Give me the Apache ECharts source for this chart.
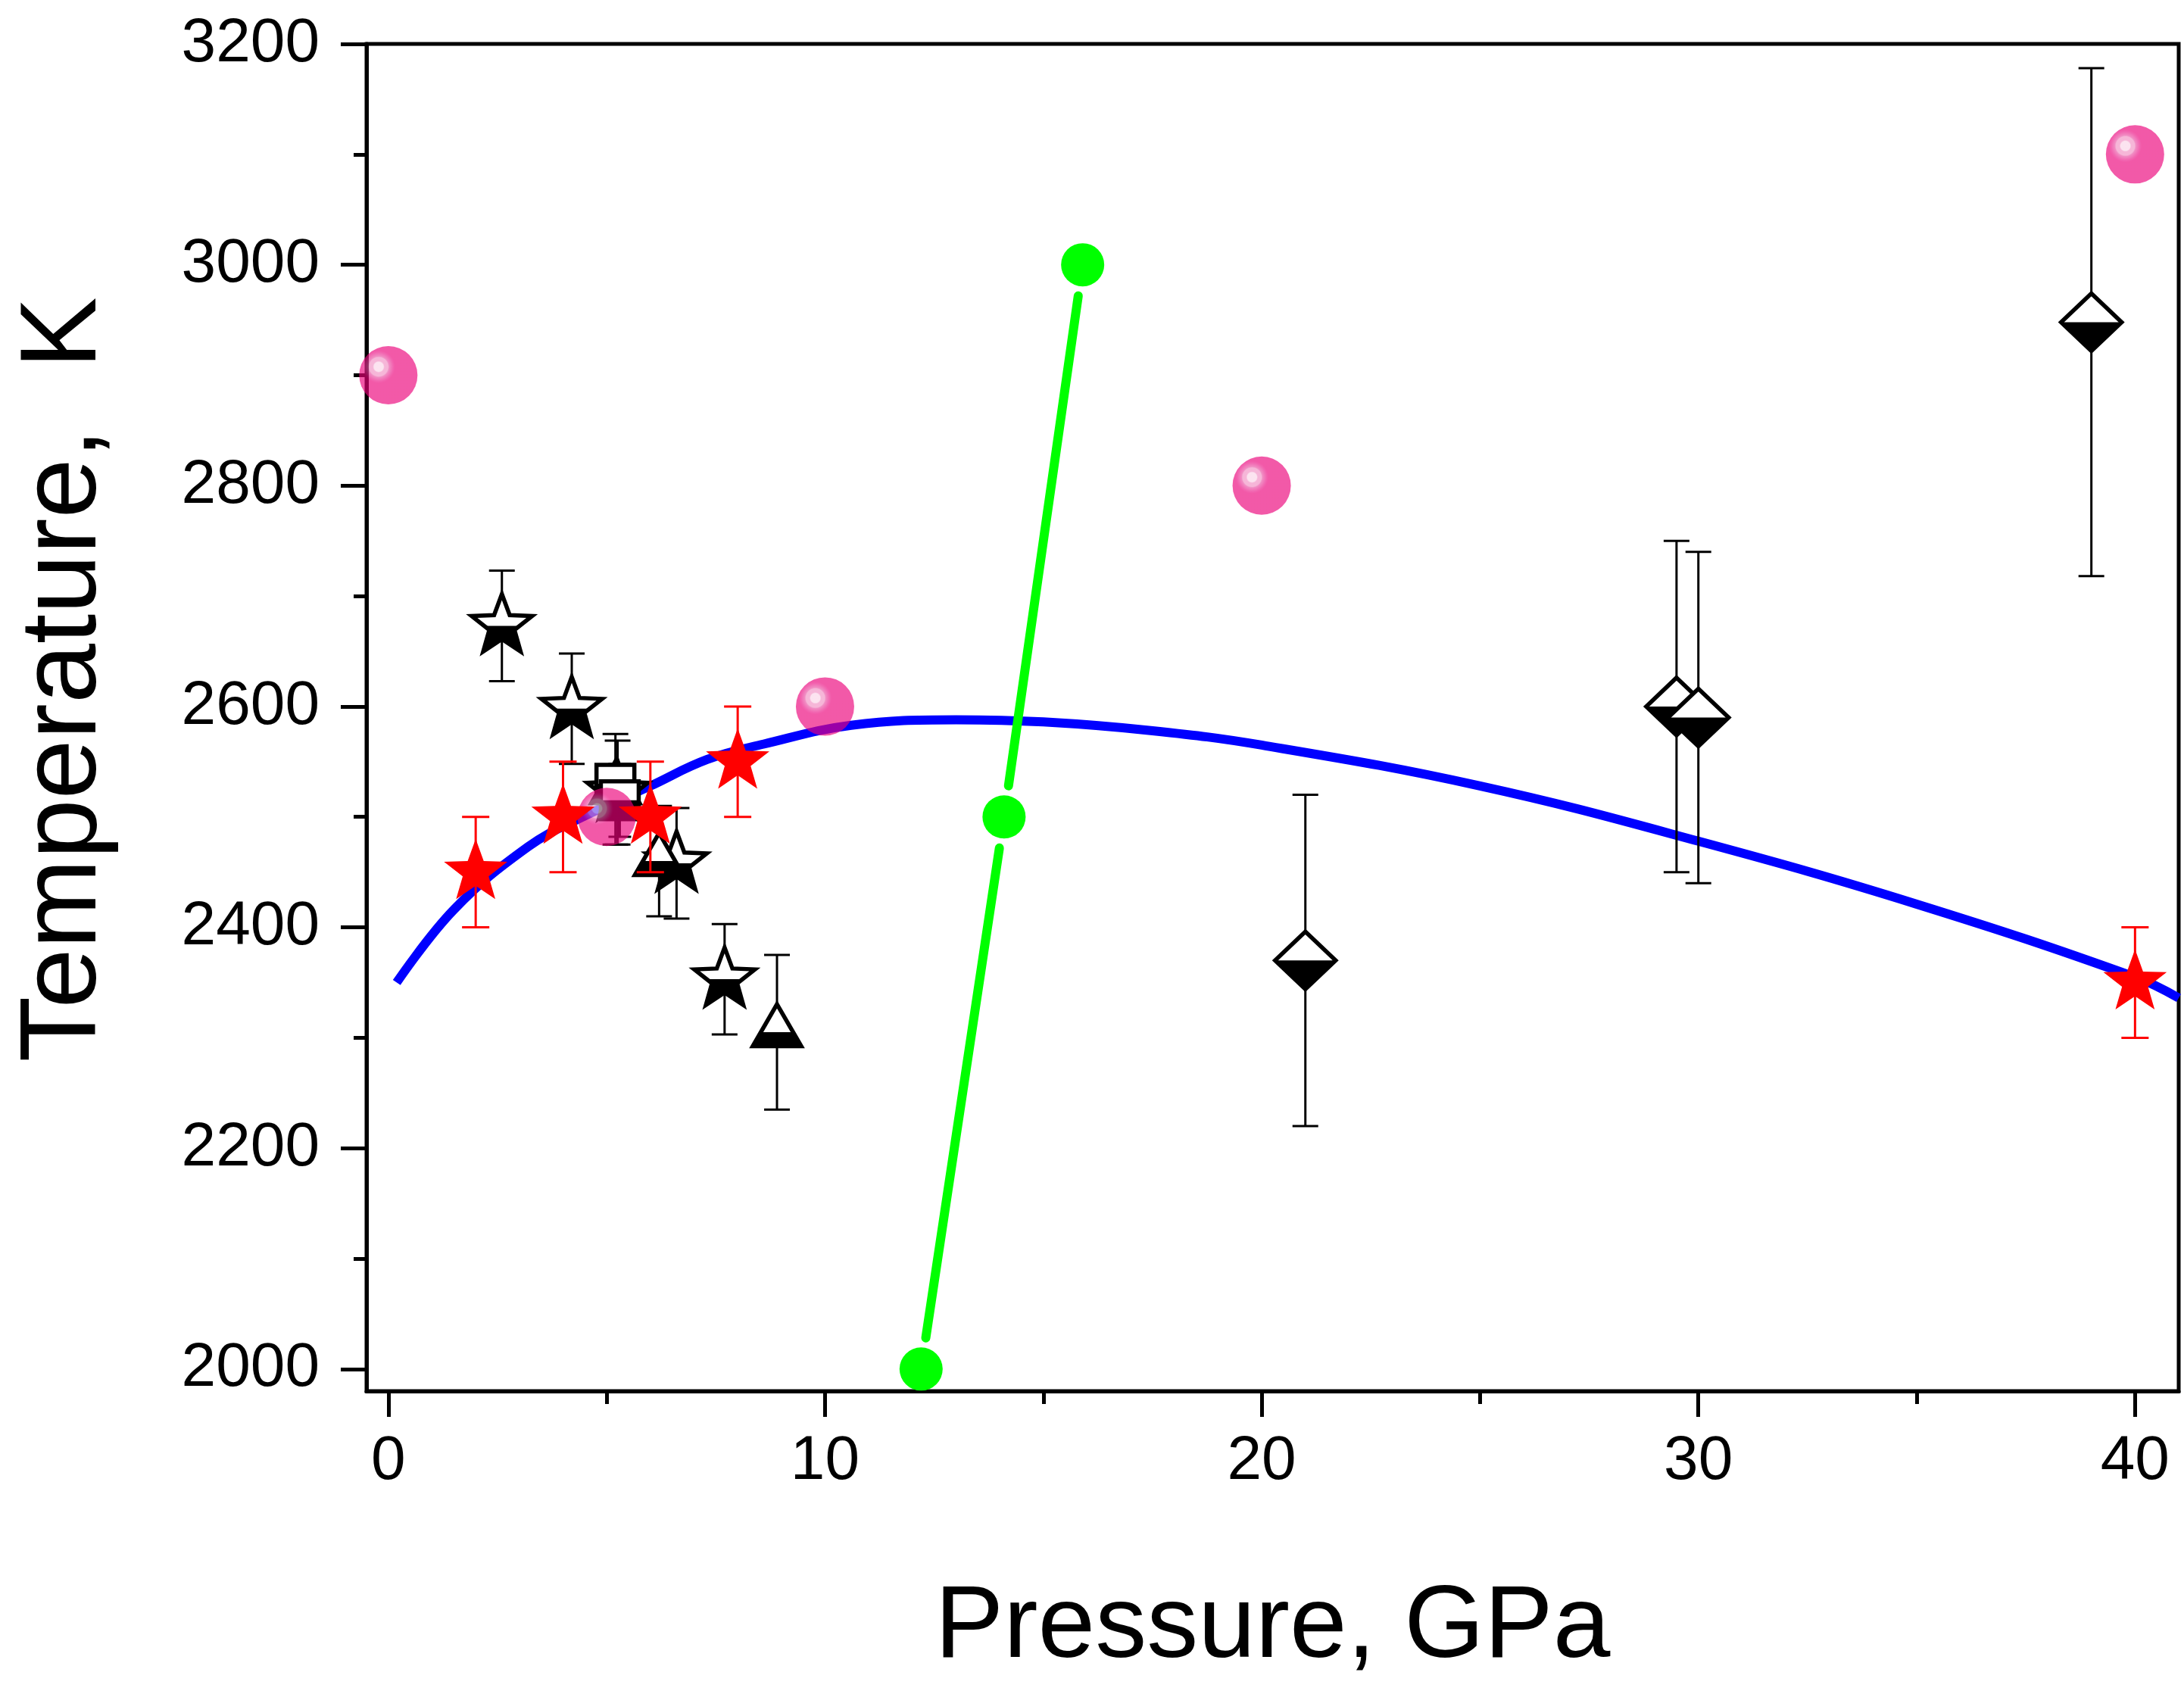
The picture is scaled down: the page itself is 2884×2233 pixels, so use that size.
<!DOCTYPE html>
<html><head><meta charset="utf-8">
<script src="https://cdn.jsdelivr.net/npm/echarts@6/dist/echarts.min.js"></script>
<style>html,body{margin:0;padding:0;background:#fff}#c{width:2884px;height:2233px}</style>
</head><body><div id="c"></div>
<script>
// ---- tick labels ----
const xTicks = [0, 10, 20, 30, 40];
const xMinorTicks = [5, 15, 25, 35];
const yTicks = [2000, 2200, 2400, 2600, 2800, 3000, 3200];
const yMinorTicks = [2100, 2300, 2500, 2700, 2900, 3100];

// ---- blue fitted curve ----
const blueP = [0.19, 1.5, 3.2, 4.4, 6, 7.3, 8.6, 10.6, 13, 15, 17.5, 20, 25, 30, 35, 40, 41];
const blueT = [2350, 2416, 2473, 2499, 2528, 2552, 2566, 2583, 2588, 2586, 2578, 2565, 2528, 2478, 2421, 2355, 2336];

// ---- green line with circles ----
const greenP = [12.2, 14.1, 15.9];
const greenT = [2000, 2500, 3000];

// ---- pink spheres ----
const pinkP = [0, 5, 10, 20, 40];
const pinkT = [2900, 2500, 2600, 2800, 3100];

// ---- red stars (with error) ----
const redP = [2, 4, 6, 8, 40];
const redT = [2450, 2500, 2500, 2550, 2350];
const redErr = [50, 50, 50, 50, 50];

// ---- half-filled black stars ----
const starP = [2.6, 4.2, 5.25, 6.6, 7.7];
const starT = [2673, 2598, 2522, 2458, 2353];
const starErr = [50, 50, 47, 50, 50];

// ---- half-filled triangles ----
const triP = [5.2, 6.2, 8.9];
const triT = [2525, 2460, 2305];
const triErr = [50, 50, 70];

// ---- half-filled squares ----
const sqP = [5.2, 5.3];
const sqT = [2530, 2515];
const sqErr = [0, 33];

// ---- half-filled diamonds ----
const diaP = [21, 29.5, 30, 39];
const diaT = [2370, 2600, 2590, 2948];
const diaErr = [150, 150, 150, 230];

const FONT = "'Liberation Sans', Arial, sans-serif";

function zip3(a, b, c) { return a.map((v, i) => [v, b[i], c ? c[i] : 0]); }

function clipBelow(pts, cy) {
  const out = [];
  for (let i = 0; i < pts.length; i++) {
    const a = pts[i], b = pts[(i + 1) % pts.length];
    const ain = a[1] >= cy, bin = b[1] >= cy;
    if (ain) out.push(a);
    if (ain !== bin) {
      const t = (cy - a[1]) / (b[1] - a[1]);
      out.push([a[0] + t * (b[0] - a[0]), cy]);
    }
  }
  return out;
}
function starPts(cx, cy, R, r) {
  const p = [];
  for (let k = 0; k < 10; k++) {
    const ang = -Math.PI / 2 + k * Math.PI / 5;
    const rad = k % 2 === 0 ? R : r;
    p.push([cx + rad * Math.cos(ang), cy + rad * Math.sin(ang)]);
  }
  return p;
}
function shapePts(kind, cx, cy) {
  if (kind === 'star') return starPts(cx, cy, 42, 17.5);
  if (kind === 'tri') {
    const R = 37;
    return [-90, 30, 150].map(a => [cx + R * Math.cos(a * Math.PI / 180), cy + R * Math.sin(a * Math.PI / 180)]);
  }
  if (kind === 'sq') { const h = 25; return [[cx - h, cy - h], [cx + h, cy - h], [cx + h, cy + h], [cx - h, cy + h]]; }
  if (kind === 'dia') { const w = 40, h = 38; return [[cx, cy - h], [cx + w, cy], [cx, cy + h], [cx - w, cy]]; }
}
function halfRender(kind) {
  return function (params, api) {
    const c = api.coord([api.value(0), api.value(1)]);
    const pts = shapePts(kind, c[0], c[1]);
    const low = clipBelow(pts, c[1]);
    return {
      type: 'group',
      children: [
        { type: 'polygon', shape: { points: pts }, style: { fill: '#fff', stroke: null } },
        { type: 'polygon', shape: { points: low }, style: { fill: '#000', stroke: null } },
        { type: 'polygon', shape: { points: pts }, style: { fill: null, stroke: '#000', lineWidth: 5.5, lineJoin: 'miter' } }
      ]
    };
  };
}
function errRender(color, capHalf) {
  return function (params, api) {
    const e = api.value(2);
    if (!e) return null;
    const x = api.value(0), y = api.value(1);
    const top = api.coord([x, y + e]);
    const bot = api.coord([x, y - e]);
    const st = { stroke: color, lineWidth: 3 };
    return {
      type: 'group',
      children: [
        { type: 'line', shape: { x1: top[0], y1: top[1], x2: bot[0], y2: bot[1] }, style: st },
        { type: 'line', shape: { x1: top[0] - capHalf, y1: top[1], x2: top[0] + capHalf, y2: top[1] }, style: st },
        { type: 'line', shape: { x1: bot[0] - capHalf, y1: bot[1], x2: bot[0] + capHalf, y2: bot[1] }, style: st }
      ]
    };
  };
}
function redStarRender(params, api) {
  const c = api.coord([api.value(0), api.value(1)]);
  return { type: 'polygon', shape: { points: starPts(c[0], c[1], 44, 18) }, style: { fill: '#ff0000' } };
}
function greenSegRender(params, api) {
  const i = params.dataIndex;
  const a = api.coord([greenP[i], greenT[i]]);
  const b = api.coord([greenP[i + 1], greenT[i + 1]]);
  const dx = b[0] - a[0], dy = b[1] - a[1];
  const L = Math.sqrt(dx * dx + dy * dy);
  const d = 41.5;
  const ux = dx / L, uy = dy / L;
  return {
    type: 'line',
    shape: { x1: a[0] + ux * d, y1: a[1] + uy * d, x2: b[0] - ux * d, y2: b[1] - uy * d },
    style: { stroke: '#00ff00', lineWidth: 12, lineCap: 'round' }
  };
}

const A = 0.65;
function pk(r, g, b) {
  const f = v => Math.max(0, Math.min(255, Math.round((v - 255 * (1 - A)) / A)));
  return 'rgba(' + f(r) + ',' + f(g) + ',' + f(b) + ',' + A + ')';
}
const sphereColor = {
  type: 'radial', x: 0.334, y: 0.355, r: 0.5,
  colorStops: [
    { offset: 0, color: pk(252, 228, 240) },
    { offset: 0.16, color: pk(252, 228, 240) },
    { offset: 0.2, color: pk(246, 182, 216) },
    { offset: 0.32, color: pk(246, 182, 216) },
    { offset: 0.36, color: pk(241, 142, 196) },
    { offset: 0.5, color: pk(242, 100, 176) },
    { offset: 0.56, color: pk(242, 86, 168) },
    { offset: 1, color: pk(242, 86, 168) }
  ]
};

const chart = echarts.init(document.getElementById('c'), null, { renderer: 'canvas' });
const labelStyle = { color: '#000', fontFamily: FONT, fontSize: 82, formatter: v => String(v) };
chart.setOption({
  animation: false,
  backgroundColor: '#fff',
  grid: {
    left: 484, right: 7, top: 58, bottom: 396,
    containLabel: false, outerBoundsMode: 'none',
    show: true, borderColor: '#000', borderWidth: 5, backgroundColor: 'transparent'
  },
  xAxis: [
    {
      type: 'value', min: -0.5, max: 41, position: 'bottom',
      name: 'Pressure, GPa', nameLocation: 'middle', nameGap: 245,
      nameTextStyle: { color: '#000', fontFamily: FONT, fontSize: 136 },
      axisLine: { show: true, onZero: false, lineStyle: { color: '#000', width: 5 } },
      axisTick: { show: true, length: 34, lineStyle: { color: '#000', width: 5 }, customValues: xTicks },
      axisLabel: Object.assign({ margin: 52, customValues: xTicks }, labelStyle),
      splitLine: { show: false }
    },
    {
      type: 'value', min: -0.5, max: 41, position: 'bottom', offset: 0,
      axisLine: { show: false, onZero: false },
      axisTick: { show: true, length: 17, lineStyle: { color: '#000', width: 5 }, customValues: xMinorTicks },
      axisLabel: { show: false },
      splitLine: { show: false }
    }
  ],
  yAxis: [
    {
      type: 'value', min: 1980, max: 3200, position: 'left',
      name: 'Temperature,  K', nameLocation: 'middle', nameRotate: 90, nameGap: 326,
      nameTextStyle: { color: '#000', fontFamily: FONT, fontSize: 142, padding: [0, 0, 0, 100] },
      axisLine: { show: true, onZero: false, lineStyle: { color: '#000', width: 5 } },
      axisTick: { show: true, length: 34, lineStyle: { color: '#000', width: 5 }, customValues: yTicks },
      axisLabel: Object.assign({ margin: 62, customValues: yTicks }, labelStyle),
      splitLine: { show: false }
    },
    {
      type: 'value', min: 1980, max: 3200, position: 'left', offset: 0,
      axisLine: { show: false, onZero: false },
      axisTick: { show: true, length: 17, lineStyle: { color: '#000', width: 5 }, customValues: yMinorTicks },
      axisLabel: { show: false },
      splitLine: { show: false }
    }
  ],
  series: [
    {
      type: 'line', z: 2, smooth: 0.4, showSymbol: false, symbol: 'none',
      data: zip3(blueP, blueT).map(d => [d[0], d[1]]),
      lineStyle: { color: '#0000ff', width: 12 }
    },
    {
      type: 'custom', z: 3, renderItem: greenSegRender,
      data: zip3(greenP.slice(0, -1), greenT.slice(0, -1)).map(d => [d[0], d[1]]),
      encode: { x: 0, y: 1 }
    },
    {
      type: 'scatter', z: 3, symbol: 'circle', symbolSize: 57,
      data: zip3(greenP, greenT).map(d => [d[0], d[1]]),
      itemStyle: { color: '#00ff00', opacity: 1 }
    },
    { type: 'custom', z: 4, clip: false, renderItem: errRender('#000', 17), data: zip3(starP, starT, starErr), encode: { x: 0, y: 1 } },
    { type: 'custom', z: 4, clip: false, renderItem: errRender('#000', 17), data: zip3(triP, triT, triErr), encode: { x: 0, y: 1 } },
    { type: 'custom', z: 4, clip: false, renderItem: errRender('#000', 15), data: zip3(sqP, sqT, sqErr), encode: { x: 0, y: 1 } },
    { type: 'custom', z: 4, clip: false, renderItem: errRender('#000', 17), data: zip3(diaP, diaT, diaErr), encode: { x: 0, y: 1 } },
    { type: 'custom', z: 5, clip: false, renderItem: halfRender('star'), data: zip3(starP, starT, starErr), encode: { x: 0, y: 1 } },
    { type: 'custom', z: 5, clip: false, renderItem: halfRender('tri'), data: zip3(triP, triT, triErr), encode: { x: 0, y: 1 } },
    { type: 'custom', z: 5, clip: false, renderItem: halfRender('sq'), data: zip3(sqP, sqT, sqErr), encode: { x: 0, y: 1 } },
    { type: 'custom', z: 5, clip: false, renderItem: halfRender('dia'), data: zip3(diaP, diaT, diaErr), encode: { x: 0, y: 1 } },
    {
      type: 'scatter', z: 6, symbol: 'circle', symbolSize: 77,
      data: zip3(pinkP, pinkT).map(d => [d[0], d[1]]),
      itemStyle: { color: sphereColor, opacity: 1 }
    },
    { type: 'custom', z: 7, clip: false, renderItem: errRender('#ff0000', 18), data: zip3(redP, redT, redErr), encode: { x: 0, y: 1 } },
    { type: 'custom', z: 8, clip: false, renderItem: redStarRender, data: zip3(redP, redT, redErr), encode: { x: 0, y: 1 } }
  ]
});
</script>
</body></html>
